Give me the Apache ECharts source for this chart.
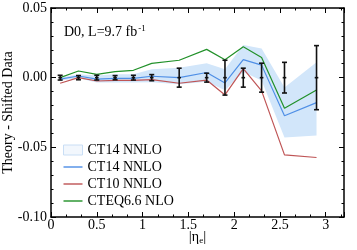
<!DOCTYPE html>
<html>
<head>
<meta charset="utf-8">
<script src="https://cdn.jsdelivr.net/npm/echarts@6/dist/echarts.min.js"></script>
<style>html,body{margin:0;padding:0;background:#fff}#c{width:357px;height:250px}</style>
</head>
<body>
<div id="c"></div>
<script>
var etaBins = [0.1, 0.3, 0.5, 0.7, 0.9, 1.1, 1.4, 1.7, 1.9, 2.1, 2.3, 2.55, 2.9];
var dataVals = [0, 0, 0, 0, 0, 0, 0, 0, 0, 0, 0, 0, 0];
var dataErr = [0.0017, 0.0015, 0.0017, 0.0015, 0.0017, 0.0022, 0.0068, 0.0032, 0.0125, 0.0068, 0.0104, 0.011, 0.023];
var ct14 = [-0.001, 0.0012, -0.001, -0.0005, -0.0005, 0.001, 0.0, 0.0037, -0.0038, 0.013, 0.009, -0.0273, -0.0179];
var ct14Up = [0.0, 0.0025, 0.0015, 0.0025, 0.0025, 0.006, 0.0072, 0.0103, 0.006, 0.0235, 0.021, -0.007, 0.011];
var ct14Lo = [-0.002, -0.0005, -0.0035, -0.0035, -0.0035, -0.0033, -0.0048, -0.003, -0.009, 0.004, -0.002, -0.043, -0.0415];
var ct10 = [-0.004, 0.0, -0.0024, -0.0019, -0.002, -0.0014, -0.004, -0.0017, -0.0124, 0.0065, -0.0095, -0.0554, -0.0573];
var cteq66 = [0.0, 0.0048, 0.0024, 0.0043, 0.0053, 0.0103, 0.0125, 0.0203, 0.0128, 0.0222, 0.0145, -0.022, -0.0088];
var xTickLabels = ['0', '0.5', '1', '1.5', '2', '2.5', '3'];
var yTickLabels = ['-0.10', '-0.05', '0.00', '0.05'];

var FONT = '"Liberation Serif", "DejaVu Serif", serif';
var chart = echarts.init(document.getElementById('c'), null, {renderer: 'canvas'});

function pairs(ys) { return etaBins.map(function (x, i) { return [x, ys[i]]; }); }

var bandData = etaBins.map(function (x, i) { return [x, ct14Lo[i], ct14Up[i]]; });
var errData = etaBins.map(function (x, i) { return [x, dataVals[i], dataErr[i]]; });

function xLab(v) {
  var idx = Math.round(v / 0.5);
  if (Math.abs(v - idx * 0.5) > 1e-6) return '';
  return xTickLabels[idx] !== undefined ? xTickLabels[idx] : '';
}
function yLab(v) {
  var idx = Math.round((v + 0.1) / 0.05);
  if (Math.abs(v + 0.1 - idx * 0.05) > 1e-6) return '';
  return yTickLabels[idx] !== undefined ? yTickLabels[idx] : '';
}

var axisCommon = {
  axisLine: {show: true, onZero: false, lineStyle: {color: '#000', width: 1.5}},
  splitLine: {show: false}
};
var LINE_ICON = 'path://M0,0h40v3h-40z';

var option = {
  animation: false,
  backgroundColor: '#fff',
  grid: {left: 51, right: 13, top: 8, bottom: 33, containLabel: false, outerBoundsMode: 'none'},
  xAxis: [
    Object.assign({}, axisCommon, {
      type: 'value', min: 0, max: 3.2, interval: 0.5, position: 'bottom',
      axisTick: {show: true, inside: true, length: 5, lineStyle: {color: '#000', width: 1}},
      minorTick: {show: true, splitNumber: 3, length: 2.5, lineStyle: {color: '#000', width: 1}},
      axisLabel: {formatter: xLab, color: '#000', fontFamily: FONT, fontSize: 14, margin: 1},
      name: '{a||}{b|η}{s|e}{a||}', nameLocation: 'middle', nameGap: 13, nameMoveOverlap: false,
      nameTextStyle: {rich: {
        a: {fontFamily: FONT, fontSize: 15, color: '#000'},
        b: {fontFamily: FONT, fontSize: 14, color: '#000'},
        s: {fontFamily: FONT, fontSize: 9, color: '#000', verticalAlign: 'bottom', padding: [6, 0, 0, 0]}
      }}
    }),
    Object.assign({}, axisCommon, {
      type: 'value', min: 0, max: 3.2, interval: 0.5, position: 'top',
      axisTick: {show: true, inside: true, length: 5, lineStyle: {color: '#000', width: 1}},
      minorTick: {show: true, splitNumber: 3, length: 2.5, lineStyle: {color: '#000', width: 1}},
      axisLabel: {show: false}
    })
  ],
  yAxis: [
    Object.assign({}, axisCommon, {
      type: 'value', min: -0.1, max: 0.05, interval: 0.05, position: 'left',
      axisTick: {show: true, inside: true, length: 5, lineStyle: {color: '#000', width: 1}},
      minorTick: {show: true, splitNumber: 5, length: 2.5, lineStyle: {color: '#000', width: 1}},
      axisLabel: {formatter: yLab, color: '#000', fontFamily: FONT, fontSize: 14, margin: 4},
      name: 'Theory - Shifted Data', nameLocation: 'middle', nameGap: 36, nameMoveOverlap: false,
      nameTextStyle: {fontFamily: FONT, fontSize: 14, color: '#000'}
    }),
    Object.assign({}, axisCommon, {
      type: 'value', min: -0.1, max: 0.05, interval: 0.05, position: 'right',
      axisTick: {show: true, inside: true, length: 5, lineStyle: {color: '#000', width: 1}},
      minorTick: {show: true, splitNumber: 5, length: 2.5, lineStyle: {color: '#000', width: 1}},
      axisLabel: {show: false}
    })
  ],
  legend: {
    left: 58, top: 138, orient: 'vertical', itemWidth: 19, itemHeight: 10, itemGap: 3,
    textStyle: {fontFamily: FONT, fontSize: 14, color: '#000'},
    data: [
      {name: 'CT14 NNLO', icon: 'rect', itemStyle: {color: '#f2f7fd', borderColor: '#c9def5', borderWidth: 1}},
      {name: 'CT14 NNLO ', icon: LINE_ICON},
      {name: 'CT10 NNLO', icon: LINE_ICON},
      {name: 'CTEQ6.6 NLO', icon: LINE_ICON}
    ]
  },
  graphic: [{
    type: 'text', left: 64, top: 24,
    style: {
      text: '{t|D0, L=9.7 fb}{s|-1}',
      rich: {
        t: {fontFamily: FONT, fontSize: 14, fill: '#000'},
        s: {fontFamily: FONT, fontSize: 9, fill: '#000', verticalAlign: 'top', padding: [0, 0, 8, 1]}
      }
    }
  }],
  series: [
    {
      name: 'CT14 NNLO', type: 'custom', xAxisIndex: 0, yAxisIndex: 0,
      itemStyle: {color: '#d2e6fa'},
      data: bandData, encode: {x: 0, y: [1, 2]},
      renderItem: function (params, api) {
        if (params.dataIndex !== 0) return null;
        var up = [], lo = [];
        for (var i = 0; i < bandData.length; i++) {
          up.push(api.coord([bandData[i][0], bandData[i][2]]));
          lo.unshift(api.coord([bandData[i][0], bandData[i][1]]));
        }
        return {type: 'polygon', shape: {points: up.concat(lo)}, style: {fill: '#d2e6fa'}, z2: 0};
      },
      z: 1
    },
    {
      name: 'CT14 NNLO ', type: 'line', data: pairs(ct14), symbol: 'none',
      lineStyle: {color: '#4f8fe6', width: 1.2}, itemStyle: {color: '#4f8fe6'}, z: 3
    },
    {
      name: 'CT10 NNLO', type: 'line', data: pairs(ct10), symbol: 'none',
      lineStyle: {color: '#bf5556', width: 1.2}, itemStyle: {color: '#bf5556'}, z: 3
    },
    {
      name: 'CTEQ6.6 NLO', type: 'line', data: pairs(cteq66), symbol: 'none',
      lineStyle: {color: '#22912a', width: 1.2}, itemStyle: {color: '#22912a'}, z: 3
    },
    {
      name: 'Data', type: 'custom', data: errData, encode: {x: 0, y: 1}, z: 5,
      renderItem: function (params, api) {
        var x = api.value(0), y = api.value(1), e = api.value(2);
        var c = api.coord([x, y]);
        var t = api.coord([x, y + e]);
        var b = api.coord([x, y - e]);
        var w = 2.5;
        var st = {stroke: '#111', lineWidth: 1.6};
        return {
          type: 'group', children: [
            {type: 'line', shape: {x1: t[0], y1: t[1], x2: b[0], y2: b[1]}, style: st},
            {type: 'line', shape: {x1: t[0] - w, y1: t[1], x2: t[0] + w, y2: t[1]}, style: st},
            {type: 'line', shape: {x1: b[0] - w, y1: b[1], x2: b[0] + w, y2: b[1]}, style: st},
            {type: 'line', shape: {x1: c[0] - 1.8, y1: c[1], x2: c[0] + 1.8, y2: c[1]}, style: st}
          ]
        };
      }
    }
  ]
};
chart.setOption(option);
</script>
</body>
</html>
